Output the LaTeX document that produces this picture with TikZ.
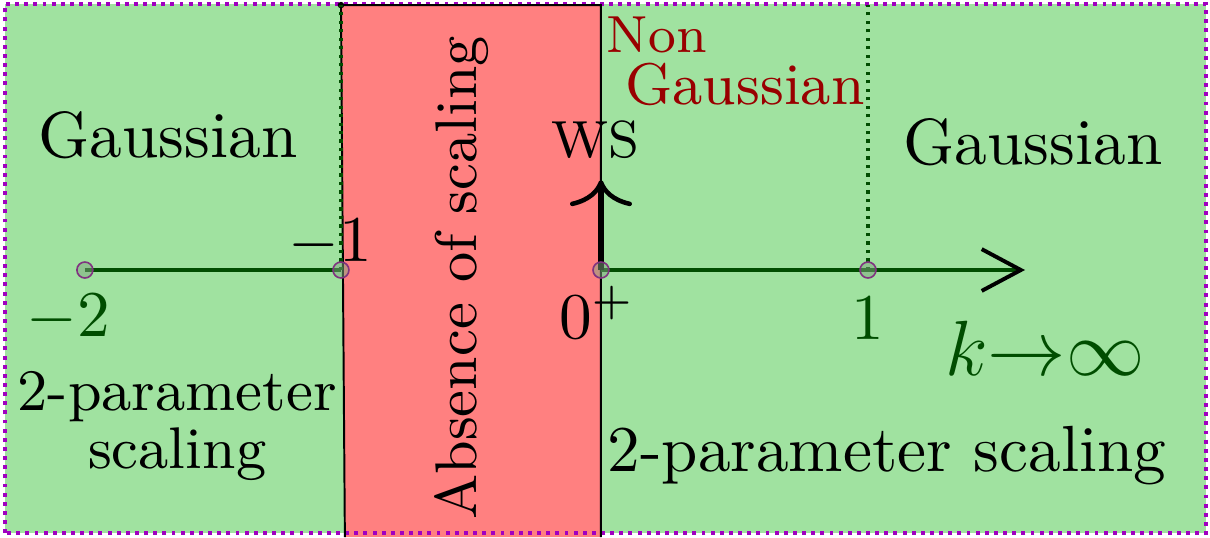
\documentclass[tikz,border=0pt]{standalone}
\usepackage{amsmath,amssymb}
\usepackage{xcolor}
\usepackage{tikz}
\usetikzlibrary{arrows.meta,positioning}
\definecolor{leafx}{HTML}{A0E2A0}
\definecolor{rosex}{HTML}{FF8080}
\definecolor{pinex}{HTML}{004D00}
\definecolor{wine}{HTML}{990000}
\definecolor{violetx}{HTML}{A000C0}
\tikzset{
  axis/.style={pinex,line width=0.6pt},
  dot/.style={circle,draw=violet!60!gray,fill=pinex!50,fill opacity=0.5,minimum size=0.086cm,inner sep=0pt,line width=0.25pt},
  guide/.style={pinex,line width=0.5pt,dash pattern=on 0.5pt off 0.8pt},
  lbl/.style={inner sep=1pt,align=center}
}

\begin{document}
\begin{tikzpicture}[x=1.4cm,y=1.4cm]
\useasboundingbox (-2.3115,-1.027) rectangle (2.3423,1.0385);
\fill[leafx] (-2.292,-1.012) rectangle (2.327,1.023);
\fill[rosex] (-1,1.019)--(0,1.019)--(0,-1.027)--(-0.985,-1.027)--cycle;
\draw[violetx,line width=0.65pt,dash pattern=on 0.6pt off 0.8pt] (-2.292,-1.012) rectangle (2.327,1.023);
\draw[line width=0.3pt] (-0.985,-1.027)--(-1,1.019)--(0,1.019)--(0,-1.027);
\fill (-1,1.019) circle (0.5pt);
\coordinate (m2) at (-1.985,0);
\coordinate (m1) at (-1,0);
\coordinate (o) at (0,0);
\coordinate (p1) at (1.027,0);
\coordinate (tip) at (0,0.346);
\coordinate (end) at (1.631,0);
\coordinate (t1) at (-1,1.019);
\coordinate (t2) at (1.027,1.019);
\draw[guide] (m1)--(t1);
\draw[guide] (p1)--(t2);
\draw[axis] (m2)--(m1);
\draw[axis,-{Straight Barb[color=black,length=6pt,width=6.4pt,line width=0.6pt]}] (o)--(end);
\draw[line width=0.85pt,-{Computer Modern Rightarrow[length=4pt,width=9.5pt,line width=0.7pt]}] (o)--(tip);
\node[dot] (dm2) at (m2) {};
\node[dot] (dm1) at (m1) {};
\node[dot] (do) at (o) {};
\node[dot] (dp1) at (p1) {};
\node[lbl,pinex] (lm2) at (-2.05,-0.185) {$-2$};
\node[lbl] (lm1) at (-1.042,0.104) {$-1$};
\node[lbl] (lo) at (-0.015,-0.162) {$0^+$};
\node[lbl,pinex] (lp1) at (1.027,-0.185) {$1$};
\node[lbl,pinex,font=\large] (lk) at (1.708,-0.3) {$k{\to}\infty$};
\node[lbl,font=\footnotesize] (ws) at (-0.02,0.5) {WS};
\node[lbl] (gl) at (-1.665,0.52) {Gaussian};
\node[lbl] (gr) at (1.662,0.49) {Gaussian};
\node[lbl,wine,font=\footnotesize] (non) at (0.215,0.904) {Non};
\node[lbl,wine,font=\small] (ng) at (0.554,0.712) {Gaussian};
\node[lbl,font=\fontsize{9pt}{7.8pt}\selectfont] (sl) at (-1.63,-0.6) {2-parameter\\scaling};
\node[lbl] (sr) at (1.1,-0.712) {2-parameter scaling};
\node[lbl,rotate=90,font=\small] (abs) at (-0.535,-0.03) {Absence of scaling};
\end{tikzpicture}
\end{document}
